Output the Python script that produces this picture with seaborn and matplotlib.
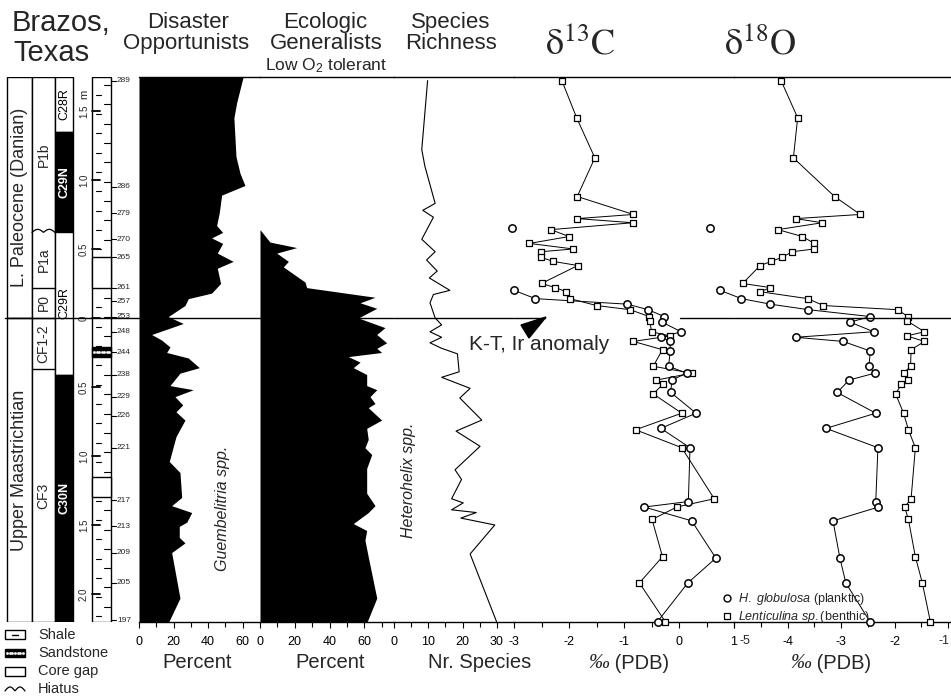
import numpy as np
import pandas as pd
import matplotlib
matplotlib.use("Agg")
import matplotlib.pyplot as plt
import seaborn as sns
from matplotlib.patches import Rectangle, Polygon
from matplotlib.lines import Line2D

# Heights are metres above (+) / below (-) the K-T boundary

# Disaster opportunists (Guembelitria), percent
dis_height = [1.75, 1.56, 1.45, 1.17, 1.05, 0.96, 0.89, 0.76, 0.67, 0.62, 0.58, 0.54,
              0.47, 0.41, 0.36, 0.25, 0.18, 0.14, 0.09, 0.01, -0.04, -0.12, -0.16, -0.21,
              -0.25, -0.29, -0.36, -0.40, -0.49, -0.52, -0.57, -0.63, -0.68, -0.74, -0.86, -1.04,
              -1.12, -1.30, -1.36, -1.41, -1.48, -1.51, -1.59, -1.63, -1.70, -2.03, -2.21]
dis_pct = [60.3, 56.5, 54.9, 56.1, 58.4, 61.3, 47.8, 46.4, 44.9, 48.4, 42.0, 48.4,
           45.3, 54.5, 45.3, 47.2, 42.0, 28.5, 26.6, 16.9, 25.6, 7.3, 13.1, 17.9,
           16.0, 28.5, 34.9, 23.7, 17.9, 31.4, 20.8, 25.3, 21.4, 26.6, 21.4, 17.5,
           23.7, 24.7, 18.9, 30.5, 27.6, 23.3, 23.3, 26.6, 18.9, 23.7, 16.9]

# Ecologic generalists (Heterohelix), percent
gen_height = [0.64, 0.55, 0.51, 0.47, 0.41, 0.37, 0.26, 0.22, 0.15, 0.11, 0.07, 0.00,
              -0.07, -0.12, -0.18, -0.22, -0.25, -0.28, -0.32, -0.36, -0.41, -0.49, -0.52, -0.57,
              -0.62, -0.65, -0.74, -0.80, -0.88, -0.94, -0.99, -1.09, -1.27, -1.36, -1.41, -1.49,
              -1.54, -1.61, -1.73, -2.03, -2.21]
gen_pct = [0, 5.7, 21.1, 9.6, 16.3, 13.4, 25.9, 26.8, 66.1, 57.5, 67.1, 56.5,
           71.8, 67.1, 72.8, 67.1, 69.9, 50.7, 57.5, 53.6, 61.3, 61.3, 67.1, 63.2,
           66.1, 62.2, 69.9, 61.3, 62.2, 60.3, 64.2, 61.3, 61.3, 66.1, 62.2, 53.6,
           61.3, 60.3, 62.2, 67.1, 61.3]

# Species richness
sp_height = [1.72, 1.22, 1.10, 0.83, 0.78, 0.73, 0.57, 0.48, 0.42, 0.34, 0.29, 0.20,
             0.17, 0.11, 0.00, -0.05, -0.10, -0.14, -0.18, -0.22, -0.26, -0.39, -0.43, -0.51,
             -0.58, -0.74, -0.82, -0.93, -1.10, -1.17, -1.31, -1.34, -1.39, -1.41, -1.45, -1.50,
             -1.71, -2.20]
sp_count = [9.8, 8.1, 9.0, 12.0, 8.4, 11.5, 8.1, 12.0, 9.5, 12.6, 10.3, 16.3,
            11.5, 10.5, 12.0, 13.9, 10.5, 13.9, 10.5, 13.9, 18.5, 19.0, 13.9, 22.2,
            19.2, 25.6, 18.1, 25.1, 17.8, 19.7, 16.8, 20.2, 16.8, 24.0, 19.5, 29.4,
            22.2, 29.9]

# Stable isotopes, Lenticulina sp. (benthic)
benthic_height = [1.72, 1.45, 1.16, 0.88, 0.75, 0.72, 0.69, 0.64, 0.59, 0.54, 0.50, 0.48,
                  0.44, 0.41, 0.38, 0.25, 0.22, 0.19, 0.14, 0.09, 0.06, 0.01, -0.02, -0.10,
                  -0.13, -0.17, -0.23, -0.35, -0.40, -0.45, -0.48, -0.55, -0.69, -0.81, -0.94, -1.31,
                  -1.37, -1.46, -1.73, -1.92, -2.20]
benthic_d13c = [-2.13, -1.86, -1.53, -1.85, -0.83, -1.85, -0.84, -2.33, -2.00, -2.72, -1.92, -2.51,
                -2.51, -2.29, -1.84, -2.50, -2.25, -2.05, -1.98, -1.50, -0.89, -0.54, -0.53, -0.50,
                -0.16, -0.83, -0.30, -0.47, 0.23, -0.41, -0.29, -0.47, 0.05, -0.79, 0.05, 0.64,
                -0.04, -0.49, -0.30, -0.72, -0.25]
benthic_d18o = [-4.12, -3.81, -3.89, -3.12, -2.64, -3.85, -3.35, -4.18, -3.72, -3.50, -3.50, -3.91,
                -4.10, -4.30, -4.51, -4.84, -4.32, -4.51, -3.62, -3.33, -1.94, -1.75, -1.77, -1.44,
                -1.77, -1.44, -1.69, -1.70, -1.83, -1.74, -1.87, -1.98, -1.83, -1.74, -1.61, -1.69,
                -1.81, -1.74, -1.61, -1.48, -1.33]

# Stable isotopes, H. globulosa (planktic); the first sample stands alone
plank_height = [0.65, 0.20, 0.14, 0.10, 0.06, 0.01, -0.03, -0.10, -0.14, -0.17, -0.24, -0.35,
                -0.40, -0.45, -0.54, -0.69, -0.80, -0.94, -1.33, -1.37, -1.47, -1.74, -1.92, -2.20]
plank_d13c = [-3.04, -3.00, -2.61, -0.94, -0.56, -0.27, -0.31, 0.04, -0.33, -0.16, -0.16, -0.19,
              0.14, -0.13, -0.15, 0.31, -0.33, 0.20, 0.17, -0.63, 0.23, 0.67, 0.16, -0.39]
plank_d18o = [-5.44, -5.26, -4.86, -4.32, -3.61, -2.45, -2.83, -2.39, -3.85, -2.96, -2.45, -2.48,
              -2.37, -2.85, -3.07, -2.35, -3.28, -2.31, -2.35, -2.30, -3.15, -3.02, -2.91, -2.46]

# Stratigraphy
TOP, BOT = 1.746, -2.203
ages = ["L. Paleocene (Danian)", "Upper Maastrichtian"]
age_bounds = [TOP, 0.0, BOT]
zones = ["P1b", "P1a", "P0", "CF1-2", "CF3"]
zone_bounds = [TOP, 0.62, 0.22, 0.0, -0.37, BOT]
HIATUS = 0.62
chrons = ["C28R", "C29N", "C29R", "C30N"]
chron_bounds = [TOP, 1.35, 0.62, -0.41, BOT]
chron_normal = [False, True, False, True]
core_gaps = [(0.22, 0.44), (-1.30, -1.15)]
sandstone = (-0.28, -0.21)
scale_marks = [1.5, 1.0, 0.5, 0.0, -0.5, -1.0, -1.5, -2.0]
sample_ids = [289, 286, 279, 270, 265, 261, 257, 253, 248, 244, 238, 229, 226, 221, 217, 213, 209, 205, 197]
sample_height = [1.72, 0.95, 0.76, 0.57, 0.44, 0.22, 0.12, 0.01, -0.10, -0.25, -0.41, -0.57,
                 -0.71, -0.94, -1.32, -1.51, -1.70, -1.92, -2.19]

sns.set_theme(style="white")
plt.rcParams["font.family"] = ["Liberation Sans", "DejaVu Sans"]
plt.rcParams["axes.unicode_minus"] = False
plt.rcParams["mathtext.fontset"] = "custom"
plt.rcParams["mathtext.rm"] = "Liberation Sans"
plt.rcParams["mathtext.it"] = "Liberation Sans:italic"
plt.rcParams["mathtext.bf"] = "Liberation Sans:bold"

W, H = 951, 697
Y0, Y1 = 77, 622


def rect(x0, x1):
    return [x0 / W, 1 - Y1 / H, (x1 - x0) / W, (Y1 - Y0) / H]


fig = plt.figure(figsize=(W / 100, H / 100), dpi=100)
fig.patch.set_facecolor("white")

# ---- stratigraphic columns (x in pixels, y in metres)
axL = fig.add_axes(rect(0, 139))
axL.set_xlim(0, 139)
axL.set_ylim(BOT, TOP)
axL.axis("off")


def box(x0, x1, y0, y1, fc="white", z=2):
    axL.add_patch(Rectangle((x0, y0), x1 - x0, y1 - y0, facecolor=fc,
                            edgecolor="black", lw=1.0, zorder=z))


for i, name in enumerate(ages):
    hi, lo = age_bounds[i], age_bounds[i + 1]
    box(7, 32, lo, hi)
    axL.text(19.5, (hi + lo) / 2, name, rotation=90, ha="center", va="center", fontsize=13)

box(32, 55, BOT, TOP)
for i, name in enumerate(zones):
    hi, lo = zone_bounds[i], zone_bounds[i + 1]
    if 0 < i and hi != HIATUS:
        axL.plot([32, 55], [hi, hi], color="black", lw=1.0, zorder=3)
    axL.text(43.5, (hi + lo) / 2, name, rotation=90, ha="center", va="center", fontsize=10, zorder=4)
wx = np.linspace(32, 55, 60)
axL.plot(wx, HIATUS + 0.022 * np.abs(np.sin((wx - 32) / 23 * 2 * np.pi)), color="black", lw=0.9, zorder=3)

for i, name in enumerate(chrons):
    hi, lo = chron_bounds[i], chron_bounds[i + 1]
    box(55, 73, lo, hi, fc="black" if chron_normal[i] else "white")
    axL.text(64, (hi + lo) / 2, name, rotation=90, ha="center", va="center", fontsize=9,
             color="white" if chron_normal[i] else "black",
             fontweight="bold" if chron_normal[i] else "normal", zorder=4)

# lithology column
box(92, 111, BOT, TOP, z=1)
for k, h in enumerate(np.arange(BOT + 0.04, TOP, 0.07)):
    if k % 2:
        axL.plot([104, 111], [h, h], color="black", lw=0.8, zorder=2)
    else:
        axL.plot([96, 101], [h, h], color="black", lw=0.8, zorder=2)
for lo, hi in core_gaps:
    box(92, 111, lo, hi, z=3)
box(92, 111, sandstone[0], sandstone[1], fc="black", z=3)
axL.plot(np.linspace(94, 109, 7), [np.mean(sandstone)] * 7, ls="none", marker="s", ms=0.9,
         color="white", zorder=4)
for h in scale_marks:
    axL.plot([92, 100], [h, h], color="black", lw=1.3, zorder=3)
    axL.text(84, h, "0" if h == 0 else f"{abs(h):.1f}", rotation=90, ha="center", va="center", fontsize=7)
axL.text(84, 1.62, "m", rotation=90, ha="center", va="center", fontsize=8)
for sid, h in zip(sample_ids, sample_height):
    axL.plot([111, 116], [h, h], color="black", lw=0.8)
    axL.text(117, h, str(sid), ha="left", va="center", fontsize=6)
axL.axhline(0, xmin=5 / 139, xmax=1, color="black", lw=1.0, zorder=5)

# ---- data panels
axA = fig.add_axes(rect(139, 260))
axB = fig.add_axes(rect(260, 394))
axS = fig.add_axes(rect(394, 514))
axC = fig.add_axes(rect(514, 734))
axO = fig.add_axes(rect(734, 951))

axA.fill_betweenx(dis_height, 0, dis_pct, color="black", lw=0)
axB.fill_betweenx(gen_height, 0, gen_pct, color="black", lw=0)
sns.lineplot(x=sp_count, y=sp_height, sort=False, estimator=None, orient="y",
             color="black", lw=0.8, ax=axS)

benthic = pd.DataFrame({"height": benthic_height, "d13c": benthic_d13c, "d18o": benthic_d18o})
plank = pd.DataFrame({"height": plank_height, "d13c": plank_d13c, "d18o": plank_d18o})

for ax, col in ((axC, "d13c"), (axO, "d18o")):
    sns.lineplot(data=benthic, x=col, y="height", sort=False, estimator=None, orient="y",
                 color="black", lw=0.7, ax=ax, clip_on=False)
    sns.lineplot(data=plank.iloc[1:], x=col, y="height", sort=False, estimator=None, orient="y",
                 color="black", lw=0.7, ax=ax, clip_on=False)
    sns.scatterplot(data=benthic, x=col, y="height", marker="s", s=20, color="white",
                    edgecolor="black", linewidth=0.9, ax=ax, clip_on=False, zorder=3)
    sns.scatterplot(data=plank, x=col, y="height", marker="o", s=28, color="white",
                    edgecolor="black", linewidth=1.1, ax=ax, clip_on=False, zorder=4)


def setup(ax, xlim, major, minor, labels):
    ax.set_xlim(*xlim)
    ax.set_ylim(BOT, TOP)
    ax.set_facecolor("none")
    ax.set_xlabel("")
    ax.set_ylabel("")
    for s in ("left", "right"):
        ax.spines[s].set_visible(False)
    for s in ("top", "bottom"):
        ax.spines[s].set_color("black")
        ax.spines[s].set_linewidth(1.0)
    ax.set_yticks([])
    ax.set_xticks(major)
    ax.set_xticklabels(labels)
    ax.set_xticks(minor, minor=True)
    ax.tick_params(axis="x", which="both", bottom=True, top=False, direction="out",
                   length=4.5, width=0.8, pad=5.5, labelsize=9, colors="black")
    ax.tick_params(axis="x", which="minor", length=3.5)


setup(axA, (0, 70), [0, 20, 40, 60], [10, 30, 50], ["0", "20", "40", "60"])
setup(axB, (0, 77), [0, 20, 40, 60], [10, 30, 50, 70], ["0", "20", "40", "60"])
setup(axS, (0, 35), [0, 10, 20, 30], [5, 15, 25], ["0", "10", "20", "30"])
setup(axC, (-3, 1), [-3, -2, -1, 0, 1], [-2.5, -1.5, -0.5, 0.5], ["-3", "-2", "-1", "0", "1"])
setup(axO, (-5, -0.944), [-5, -4, -3, -2, -1], [-4.5, -3.5, -2.5, -1.5], ["", "-4", "-3", "-2", ""])
# end labels shifted so they neither collide with "1" nor leave the picture
axO.annotate("-5", xy=(-5, 0), xycoords=axO.get_xaxis_transform(), xytext=(8, -9.5),
             textcoords="offset points", ha="center", va="top", fontsize=9)
axO.annotate("-1", xy=(-1, 0), xycoords=axO.get_xaxis_transform(), xytext=(-3, -9.5),
             textcoords="offset points", ha="center", va="top", fontsize=9)

for ax in (axA, axB, axS, axO):
    ax.axhline(0, color="black", lw=1.0, zorder=5)
axC.axhline(0, xmin=0, xmax=31 / 220, color="black", lw=1.0, zorder=5)
axC.axhline(0, xmin=166 / 220, xmax=1, color="black", lw=1.0, zorder=5)

fig.legend(handles=[Line2D([], [], marker="o", ls="none", mfc="white", mec="black", ms=5, mew=1),
                    Line2D([], [], marker="s", ls="none", mfc="white", mec="black", ms=4.5, mew=0.9)],
           labels=[r"$\mathit{H.\ globulosa}$ (planktic)", r"$\mathit{Lenticulina\ sp.}$(benthic)"],
           loc="upper left", bbox_to_anchor=(723 / W, 1 - 591 / H), frameon=False, fontsize=9,
           handlelength=0.7, handletextpad=0.5, labelspacing=0.15, borderpad=0, borderaxespad=0)

# ---- titles, labels and key (pixel coordinates)
deco = fig.add_axes([0, 0, 1, 1])
deco.set_xlim(0, W)
deco.set_ylim(H, 0)
deco.axis("off")

deco.text(12, 31, "Brazos,", fontsize=21, ha="left", va="baseline")
deco.text(13, 61, "Texas", fontsize=21, ha="left", va="baseline")
deco.text(188, 28, "Disaster", fontsize=16, ha="center", va="baseline")
deco.text(186, 49, "Opportunists", fontsize=16, ha="center", va="baseline")
deco.text(325, 28, "Ecologic", fontsize=16, ha="center", va="baseline")
deco.text(326, 49, "Generalists", fontsize=16, ha="center", va="baseline")
deco.text(326, 70, r"Low O$_2$ tolerant", fontsize=12.5, ha="center", va="baseline")
deco.text(451, 28, "Species", fontsize=16, ha="center", va="baseline")
deco.text(451, 49, "Richness", fontsize=16, ha="center", va="baseline")
deco.text(580, 53, r"$\mathrm{\delta}^{13}\mathrm{C}$", fontsize=26, ha="center", va="baseline",
          math_fontfamily="stix")
deco.text(760, 53, r"$\mathrm{\delta}^{18}\mathrm{O}$", fontsize=26, ha="center", va="baseline",
          math_fontfamily="stix")

deco.text(222, 508, "Guembelitria spp.", rotation=90, style="italic", fontsize=11.5, ha="center", va="center")
deco.text(408, 480, "Heterohelix spp.", rotation=90, style="italic", fontsize=11.5, ha="center", va="center")
deco.text(469, 345, "K-T, Ir anomaly", fontsize=15, ha="left", va="center")
deco.add_patch(Polygon([(521, 325), (546, 317), (529, 338)], closed=True, fc="black", ec="black"))

for xc, lab in ((197, "Percent"), (330, "Percent"), (480, "Nr. Species")):
    deco.text(xc, 668, lab, fontsize=14.5, ha="center", va="baseline")
for x0 in (588, 790):
    t = deco.text(x0, 668, "\u2030", family="Liberation Serif", style="italic", fontsize=15,
                  ha="left", va="baseline")
    deco.annotate(" (PDB)", xy=(1, 0), xycoords=t, xytext=(0, 0), textcoords="offset points",
                  fontsize=14.5, ha="left", va="bottom")

# key for lithology
deco.add_patch(Rectangle((5, 630), 20, 9, fc="white", ec="black", lw=1))
deco.plot([12, 18], [634.5, 634.5], color="black", lw=1)
deco.text(38, 635, "Shale", fontsize=10.5, va="center")
deco.add_patch(Rectangle((5, 649), 20, 8, fc="black", ec="black", lw=1))
deco.plot(np.linspace(7, 23, 7), [653] * 7, ls="none", marker="s", ms=0.9, color="white")
deco.text(38, 653, "Sandstone", fontsize=10.5, va="center")
deco.add_patch(Rectangle((5, 667), 20, 9, fc="white", ec="black", lw=1))
deco.text(38, 671, "Core gap", fontsize=10.5, va="center")
hx = np.linspace(5, 25, 40)
deco.plot(hx, 691 - 4 * np.abs(np.sin((hx - 5) / 20 * 2 * np.pi)), color="black", lw=0.9)
deco.text(38, 689, "Hiatus", fontsize=10.5, va="center")

fig.savefig("out.png", dpi=100)
